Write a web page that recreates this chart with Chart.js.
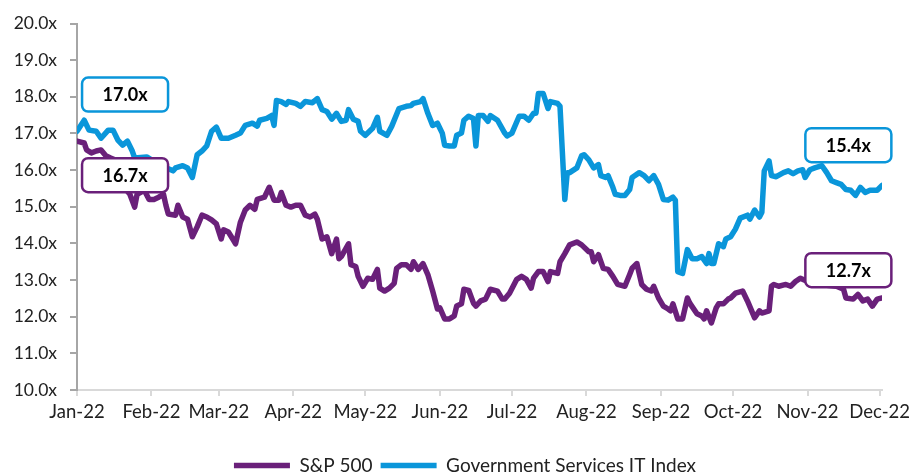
<!DOCTYPE html>
<html>
<head>
<meta charset="utf-8">
<script src="https://cdn.jsdelivr.net/npm/chart.js@4.4.1/dist/chart.umd.min.js"></script>
<style>
html,body{margin:0;padding:0;background:#fff;}
#wrap{width:909px;height:475px;position:relative;}
</style>
</head>
<body>
<div id="wrap"><canvas id="c"></canvas></div>
<script>
// ---------- data ----------
const tickLabels = ['Jan-22','Feb-22','Mar-22','Apr-22','May-22','Jun-22','Jul-22','Aug-22','Sep-22','Oct-22','Nov-22','Dec-22'];
const seriesNames = ['S&P 500', 'Government Services IT Index'];

const spxDates = ['2022-01-03','2022-01-06','2022-01-07','2022-01-09','2022-01-11','2022-01-13','2022-01-15','2022-01-17','2022-01-20','2022-01-23','2022-01-24','2022-01-25','2022-01-27','2022-01-28','2022-01-31',
'2022-02-02','2022-02-04','2022-02-06','2022-02-08','2022-02-09','2022-02-10','2022-02-13','2022-02-14','2022-02-16','2022-02-18','2022-02-20','2022-02-22','2022-02-24','2022-02-26','2022-02-28',
'2022-03-02','2022-03-04','2022-03-05','2022-03-07','2022-03-09','2022-03-10','2022-03-12','2022-03-14','2022-03-16','2022-03-18','2022-03-19','2022-03-22','2022-03-24','2022-03-26','2022-03-28','2022-03-29','2022-03-31',
'2022-04-02','2022-04-04','2022-04-06','2022-04-08','2022-04-10','2022-04-12','2022-04-13','2022-04-15','2022-04-17','2022-04-19','2022-04-21','2022-04-22','2022-04-23','2022-04-26','2022-04-27','2022-04-29','2022-04-30',
'2022-05-02','2022-05-04','2022-05-06','2022-05-08','2022-05-09','2022-05-11','2022-05-13','2022-05-15','2022-05-16','2022-05-18','2022-05-20','2022-05-22','2022-05-23','2022-05-25','2022-05-27','2022-05-29','2022-05-31',
'2022-06-02','2022-06-03','2022-06-05','2022-06-07','2022-06-09','2022-06-10','2022-06-12','2022-06-13','2022-06-15','2022-06-17','2022-06-18','2022-06-20','2022-06-22','2022-06-24','2022-06-27','2022-06-29','2022-06-30',
'2022-07-02','2022-07-05','2022-07-07','2022-07-09','2022-07-11','2022-07-12','2022-07-14','2022-07-16','2022-07-18','2022-07-19','2022-07-22','2022-07-23','2022-07-25','2022-07-27','2022-07-30',
'2022-08-01','2022-08-04','2022-08-05','2022-08-06','2022-08-08','2022-08-10','2022-08-12','2022-08-14','2022-08-16','2022-08-19','2022-08-21','2022-08-22','2022-08-24','2022-08-26','2022-08-28','2022-08-30','2022-08-31',
'2022-09-02','2022-09-04','2022-09-06','2022-09-07','2022-09-08','2022-09-10','2022-09-12','2022-09-14','2022-09-15','2022-09-18','2022-09-20','2022-09-21','2022-09-22','2022-09-24','2022-09-26','2022-09-27','2022-09-29',
'2022-10-01','2022-10-02','2022-10-04','2022-10-07','2022-10-09','2022-10-12','2022-10-14','2022-10-15','2022-10-18','2022-10-19','2022-10-20','2022-10-22','2022-10-25','2022-10-27','2022-10-29','2022-10-31',
'2022-11-04','2022-11-07','2022-11-11','2022-11-15','2022-11-18','2022-11-19','2022-11-22','2022-11-24','2022-11-26','2022-11-28','2022-11-30','2022-12-02','2022-12-04'];
const spxValues = [16.79,16.74,16.55,16.47,16.52,16.55,16.39,16.33,16.25,15.93,15.42,15.34,14.99,15.34,15.45,
15.20,15.20,15.26,15.34,15.04,14.80,14.77,15.04,14.72,14.66,14.18,14.45,14.77,14.72,14.64,
14.53,14.12,14.37,14.31,14.10,13.99,14.58,14.91,15.04,14.93,15.20,15.26,15.53,15.18,15.18,15.39,15.04,
14.99,15.04,15.04,14.77,14.72,14.80,14.66,14.12,14.18,13.72,14.12,13.58,13.64,13.99,13.42,13.37,13.10,
12.83,13.05,13.02,13.29,12.78,12.70,12.78,12.91,13.32,13.42,13.42,13.29,13.50,13.29,13.45,13.15,12.70,
12.21,12.24,11.94,11.94,12.02,12.29,12.35,12.75,12.72,12.37,12.29,12.43,12.48,12.75,12.70,12.48,12.48,
12.64,13.02,13.10,13.02,12.78,13.05,13.23,13.23,12.96,13.23,13.18,13.50,13.72,13.96,14.04,
13.96,13.77,13.77,13.50,13.69,13.32,13.29,13.10,12.88,12.83,13.15,13.32,13.45,12.88,12.75,12.70,12.83,
12.51,12.29,12.21,12.16,12.35,11.94,11.94,12.51,12.37,12.08,12.02,11.94,12.16,11.83,12.24,12.35,12.35,
12.48,12.51,12.64,12.70,12.43,11.97,12.16,12.10,12.16,12.83,12.88,12.83,12.88,12.83,12.96,13.05,
12.93,12.91,12.86,12.83,12.75,12.51,12.48,12.61,12.43,12.48,12.29,12.48,12.51];

const govDates = ['2022-01-03','2022-01-06','2022-01-08','2022-01-11','2022-01-13','2022-01-16','2022-01-18','2022-01-20','2022-01-22','2022-01-24','2022-01-26','2022-01-27',
'2022-02-01','2022-02-05','2022-02-07','2022-02-10','2022-02-12','2022-02-13','2022-02-16','2022-02-18','2022-02-20','2022-02-22','2022-02-24','2022-02-26','2022-02-28',
'2022-03-02','2022-03-04','2022-03-07','2022-03-10','2022-03-12','2022-03-14','2022-03-17','2022-03-19','2022-03-20','2022-03-23','2022-03-25','2022-03-26','2022-03-27','2022-03-29','2022-03-31',
'2022-04-01','2022-04-04','2022-04-06','2022-04-08','2022-04-11','2022-04-13','2022-04-15','2022-04-17','2022-04-19','2022-04-21','2022-04-23','2022-04-25','2022-04-26','2022-04-28','2022-04-30',
'2022-05-01','2022-05-03','2022-05-06','2022-05-08','2022-05-09','2022-05-12','2022-05-14','2022-05-17','2022-05-20','2022-05-22','2022-05-23','2022-05-26','2022-05-27','2022-05-29','2022-05-31',
'2022-06-02','2022-06-04','2022-06-05','2022-06-07','2022-06-09','2022-06-10','2022-06-12','2022-06-13','2022-06-15','2022-06-17','2022-06-18','2022-06-19','2022-06-21','2022-06-23','2022-06-24','2022-06-27','2022-06-30',
'2022-07-01','2022-07-03','2022-07-06','2022-07-08','2022-07-10','2022-07-12','2022-07-13','2022-07-14','2022-07-16','2022-07-18','2022-07-19','2022-07-22','2022-07-23','2022-07-25','2022-07-26','2022-07-27','2022-07-30',
'2022-08-01','2022-08-02','2022-08-04','2022-08-06','2022-08-08','2022-08-09','2022-08-11','2022-08-12','2022-08-14','2022-08-15','2022-08-17','2022-08-19','2022-08-21','2022-08-22','2022-08-25','2022-08-27','2022-08-29','2022-08-31',
'2022-09-02','2022-09-04','2022-09-06','2022-09-08','2022-09-09','2022-09-10','2022-09-12','2022-09-14','2022-09-16','2022-09-18','2022-09-20','2022-09-22','2022-09-23','2022-09-24','2022-09-25','2022-09-27','2022-09-29','2022-09-30',
'2022-10-02','2022-10-04','2022-10-06','2022-10-09','2022-10-10','2022-10-12','2022-10-14','2022-10-15','2022-10-16','2022-10-18','2022-10-19','2022-10-21','2022-10-24','2022-10-26','2022-10-28','2022-10-30',
'2022-11-01','2022-11-02','2022-11-04','2022-11-06','2022-11-09','2022-11-11','2022-11-13','2022-11-15','2022-11-17','2022-11-19','2022-11-21','2022-11-23','2022-11-25','2022-11-27','2022-11-29','2022-12-02','2022-12-04'];
const govValues = [17.06,17.36,17.09,17.06,16.87,17.09,17.09,16.82,16.68,16.79,16.52,16.33,
16.36,16.20,16.15,16.04,15.98,16.06,16.12,16.06,15.80,16.42,16.52,16.66,17.06,
17.17,16.87,16.87,16.95,17.01,17.22,17.28,17.20,17.36,17.41,17.49,17.22,17.90,17.87,17.79,
17.87,17.82,17.74,17.87,17.84,17.95,17.65,17.60,17.39,17.55,17.33,17.36,17.65,17.39,17.33,
17.06,16.95,17.14,17.44,17.06,16.95,17.20,17.68,17.74,17.76,17.82,17.87,17.95,17.55,17.22,
17.28,17.01,16.68,16.66,16.66,16.95,17.01,17.36,17.47,17.41,16.66,17.49,17.49,17.33,17.49,17.36,17.01,
16.93,17.01,17.47,17.47,17.36,17.55,17.55,18.09,18.09,17.68,17.87,17.82,17.74,15.20,15.93,15.93,16.06,
16.39,16.42,16.28,16.06,16.15,15.85,15.80,15.85,15.53,15.34,15.31,15.31,15.47,15.80,15.93,15.85,15.71,15.85,
15.61,15.20,15.18,15.26,15.18,13.23,13.18,13.83,13.58,13.58,13.64,13.45,13.72,13.45,13.45,13.99,13.91,14.12,
14.18,14.39,14.69,14.77,14.66,14.91,14.72,14.85,15.98,16.25,15.85,15.82,15.93,15.98,15.90,15.98,
16.01,15.80,16.01,16.06,16.12,15.93,15.71,15.66,15.61,15.47,15.45,15.31,15.53,15.39,15.45,15.45,15.58];

const calloutTexts  = ['17.0x', '16.7x', '15.4x', '12.7x'];
const calloutSeries = [1, 0, 1, 0];
const calloutDates  = ['2022-01-23', '2022-01-23', '2022-11-20', '2022-11-20'];
const calloutValues = [18.06, 15.86, 16.68, 13.27];

// ---------- helpers ----------
const seriesColors = ['#6A207A', '#0A96DA'];
const axisStart = Date.UTC(2022, 0, 3);
const dayOf = s => (Date.parse(s + 'T00:00:00Z') - axisStart) / 864e5;
const FONT = 'Lato, "Open Sans", sans-serif';
const LINE_W = 5.5;

const toPoints = (dates, vals) => dates.map((d, i) => ({ x: dayOf(d), y: vals[i] }));

const calloutPlugin = {
  id: 'callouts',
  afterDatasetsDraw(chart) {
    const { ctx, scales: { x, y } } = chart;
    ctx.save();
    calloutTexts.forEach((t, i) => {
      const cx = x.getPixelForValue(dayOf(calloutDates[i]));
      const cy = y.getPixelForValue(calloutValues[i]);
      const w = 86, h = 34;
      ctx.beginPath();
      ctx.roundRect(cx - w / 2, cy - h / 2, w, h, 6);
      ctx.fillStyle = '#fff';
      ctx.fill();
      ctx.lineWidth = 2.5;
      ctx.strokeStyle = seriesColors[calloutSeries[i]];
      ctx.stroke();
      ctx.fillStyle = '#000';
      ctx.font = 'bold 18px ' + FONT;
      ctx.textAlign = 'center';
      ctx.textBaseline = 'middle';
      ctx.fillText(t, cx, cy + 1);
    });
    ctx.restore();
  }
};

// shift the legend block so it is centred like the original
const legendShift = {
  id: 'legendShift',
  afterLayout(chart) {
    if (chart.legend) chart.legend.left = 48;
  }
};

new Chart(document.getElementById('c'), {
  type: 'line',
  data: {
    datasets: [
      { label: seriesNames[0], data: toPoints(spxDates, spxValues), borderColor: seriesColors[0], backgroundColor: seriesColors[0], borderWidth: LINE_W },
      { label: seriesNames[1], data: toPoints(govDates, govValues), borderColor: seriesColors[1], backgroundColor: seriesColors[1], borderWidth: LINE_W }
    ]
  },
  options: {
    responsive: true,
    maintainAspectRatio: false,
    animation: false,
    events: [],
    layout: { padding: { left: 0, right: 27, top: 19, bottom: -10 } },
    elements: {
      line: { tension: 0, borderJoinStyle: 'round', borderCapStyle: 'round' },
      point: { radius: 0 }
    },
    scales: {
      x: {
        type: 'linear',
        min: 0,
        max: dayOf(govDates[govDates.length - 1]),
        afterBuildTicks: s => { s.ticks = tickLabels.map((_, i) => ({ value: dayOf(new Date(Date.UTC(2022, i, 3)).toISOString().slice(0, 10)) })); },
        afterFit: s => { s.height = 58; s.paddingLeft = 0; s.paddingRight = 0; },
        border: { display: true, color: '#D9D9D9', width: 2 },
        grid: { drawOnChartArea: false, drawTicks: true, tickLength: 6, color: '#D9D9D9', lineWidth: 2 },
        ticks: { autoSkip: false, maxRotation: 0, padding: 5, color: '#222', font: { family: FONT, size: 18.5 },
                 callback: (v, i) => tickLabels[i] }
      },
      y: {
        min: 10, max: 20,
        afterFit: s => { s.width = 77; },
        border: { display: true, color: '#A6A6A6', width: 2 },
        grid: { drawOnChartArea: false, drawTicks: true, tickLength: 7, color: '#A6A6A6', lineWidth: 2 },
        ticks: { stepSize: 1, padding: 13, color: '#222', font: { family: FONT, size: 17.5 },
                 callback: v => v.toFixed(1) + 'x' }
      }
    },
    plugins: {
      tooltip: { enabled: false },
      legend: {
        position: 'bottom',
        labels: { usePointStyle: true, pointStyle: 'line', pointStyleWidth: 56, padding: 8,
                  color: '#222', font: { family: FONT, size: 19 } }
      }
    }
  },
  plugins: [calloutPlugin, legendShift]
});
</script>
</body>
</html>
